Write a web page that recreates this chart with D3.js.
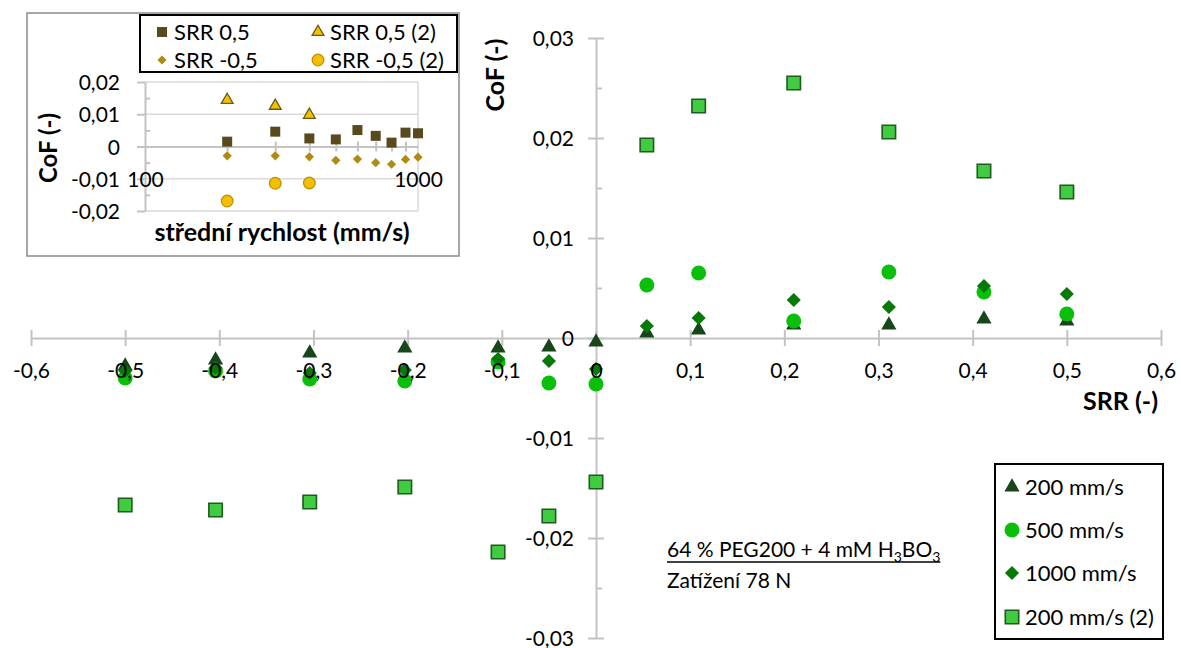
<!DOCTYPE html>
<html><head><meta charset="utf-8">
<script src="https://cdn.jsdelivr.net/npm/d3@7"></script>
<style>
html,body{margin:0;padding:0;background:#fff;}
text{font-family:Lato,'Open Sans',sans-serif;fill:#000;}
</style></head>
<body>
<svg id="chart" width="1181" height="648"></svg>
<script>
// ---------- Main chart data ----------
const srr = [-0.5, -0.404, -0.304, -0.203, -0.104, -0.05, 0, 0.054, 0.109, 0.21, 0.311, 0.412, 0.5];
const cof200  = [-0.0028, -0.0022, -0.0015, -0.0010, -0.0010, -0.0009, -0.0004, 0.0005, 0.0008, 0.0013, 0.0013, 0.0019, 0.0017];
const cof500  = [-0.0040, -0.0033, -0.0041, -0.0043, -0.0024, -0.0045, -0.0046, 0.0053, 0.0065, 0.0017, 0.0066, 0.0046, 0.0024];
const cof1000 = [-0.0033, -0.0030, -0.0035, -0.0032, -0.0021, -0.0023, -0.0031, 0.0012, 0.0020, 0.0038, 0.0031, 0.0052, 0.0044];
const cof200b = [-0.0167, -0.0172, -0.0164, -0.0149, -0.0214, -0.0178, -0.0144, 0.0193, 0.0232, 0.0255, 0.0206, 0.0167, 0.0146];
const seriesNames = ["200 mm/s", "500 mm/s", "1000 mm/s", "200 mm/s (2)"];
const xTicks = [-0.6, -0.5, -0.4, -0.3, -0.2, -0.1, 0, 0.1, 0.2, 0.3, 0.4, 0.5, 0.6];
const yTicks = [-0.03, -0.02, -0.01, 0, 0.01, 0.02, 0.03];
const yMinor = [-0.025, -0.015, -0.005, 0.005, 0.015, 0.025];

// ---------- Inset data ----------
const speeds  = [200, 300, 400, 500, 600, 700, 800, 900, 1000];
const srrPos  = [0.0015, 0.0046, 0.0025, 0.0022, 0.0051, 0.0033, 0.0012, 0.0043, 0.0041];
const srrNeg  = [-0.0029, -0.0029, -0.0032, -0.0043, -0.0039, -0.0050, -0.0055, -0.0040, -0.0033];
const speeds2 = [200, 300, 400];
const srrPos2 = [0.0144, 0.0126, 0.0098];
const srrNeg2 = [-0.0169, -0.0114, -0.0113];
const insetNames = ["SRR 0,5", "SRR 0,5 (2)", "SRR -0,5", "SRR -0,5 (2)"];
const insetYTicks = [-0.02, -0.01, 0, 0.01, 0.02];
const insetYMinor = [-0.015, -0.005, 0.005, 0.015];
const insetXMinor = [200, 300, 400, 500, 600, 700, 800, 900];
const insetXLabels = [100, 1000];

// ---------- helpers ----------
const loc = d3.formatLocale({decimal: ",", thousands: " ", grouping: [3], currency: ["", ""], minus: "-"});
const fmt1 = v => v === 0 ? "0" : loc.format(".1f")(v);
const fmt2 = v => v === 0 ? "0" : loc.format(".2f")(v);
const axisColor = "#c3c3c3";

const diamond = { draw(ctx, size) { const r = Math.sqrt(size) / 2; ctx.moveTo(0, -r); ctx.lineTo(r, 0); ctx.lineTo(0, r); ctx.lineTo(-r, 0); ctx.closePath(); } };

const svg = d3.select("#chart");

// ---------- Main scales ----------
const x = d3.scaleLinear().domain([-0.6, 0.6]).range([31, 1161]);
const y = d3.scaleLinear().domain([-0.03, 0.03]).range([638, 38]);

// axis lines
const gx = svg.append("g").attr("transform", `translate(0,${y(0)})`)
  .call(d3.axisBottom(x).tickValues(xTicks).tickSize(8).tickSizeOuter(0).tickFormat(""));
gx.select(".domain").attr("stroke", axisColor).attr("stroke-width", 2);
gx.selectAll(".tick line").attr("y1", -8).attr("y2", 8).attr("stroke", axisColor).attr("stroke-width", 2);

const gy = svg.append("g").attr("transform", `translate(${x(0)},0)`)
  .call(d3.axisLeft(y).tickValues(yTicks).tickSize(8).tickSizeOuter(0).tickFormat(""));
gy.select(".domain").attr("stroke", axisColor).attr("stroke-width", 2);
gy.selectAll(".tick line").attr("x1", 8).attr("x2", -8).attr("stroke", axisColor).attr("stroke-width", 2);

const gyMinor = svg.append("g").attr("transform", `translate(${x(0)},0)`)
  .call(d3.axisRight(y).tickValues(yMinor).tickSize(6).tickFormat(""));
gyMinor.select(".domain").remove();
gyMinor.selectAll(".tick line").attr("stroke", axisColor).attr("stroke-width", 2);

// markers
const mains = svg.append("g");
const data = srr.map((s, i) => ({s, a: cof200[i], b: cof500[i], c: cof1000[i], d: cof200b[i]}));
mains.selectAll(".tri").data(data).join("path")
  .attr("d", d3.symbol(d3.symbolTriangle, 100))
  .attr("transform", d => `translate(${x(d.s)},${y(d.a)})`)
  .attr("fill", "#17461a");
mains.selectAll(".cir").data(data).join("circle")
  .attr("cx", d => x(d.s)).attr("cy", d => y(d.b)).attr("r", 7.5)
  .attr("fill", "#0abf0a");
mains.selectAll(".dia").data(data).join("path")
  .attr("d", d3.symbol(diamond, 200))
  .attr("transform", d => `translate(${x(d.s)},${y(d.c)})`)
  .attr("fill", "#067a06");
mains.selectAll(".sq").data(data).join("path")
  .attr("d", d3.symbol(d3.symbolSquare, 180))
  .attr("transform", d => `translate(${x(d.s)},${y(d.d)})`)
  .attr("fill", "#41cb41").attr("stroke", "#1c5c1c").attr("stroke-width", 1.6);

// tick labels on top
const lx = svg.append("g").attr("transform", `translate(0,${y(0)})`)
  .call(d3.axisBottom(x).tickValues(xTicks).tickSize(0).tickFormat(fmt1));
lx.select(".domain").remove();
lx.selectAll(".tick text").attr("y", 40).attr("dy", null).style("font-size", "21px").style("font-family", "Lato");

const ly = svg.append("g").attr("transform", `translate(${x(0)},0)`)
  .call(d3.axisLeft(y).tickValues(yTicks).tickSize(0).tickPadding(22).tickFormat(fmt2));
ly.select(".domain").remove();
ly.selectAll(".tick text").attr("dy", "0.34em").style("font-size", "21px").style("font-family", "Lato");

// axis titles
svg.append("text").attr("transform", "translate(504,75) rotate(-90)")
  .attr("text-anchor", "middle").style("font-size", "25px").style("font-weight", "bold").text("CoF (-)");
svg.append("text").attr("x", 1158).attr("y", 410).attr("text-anchor", "end")
  .style("font-size", "25px").style("font-weight", "bold").text("SRR (-)");

// annotation
const ann = svg.append("text").attr("x", 667).attr("y", 557).style("font-size", "21px");
ann.append("tspan").text("64 % PEG200 + 4 mM H");
ann.append("tspan").attr("dy", 5).style("font-size", "14px").text("3");
ann.append("tspan").attr("dy", -5).text("BO");
ann.append("tspan").attr("dy", 5).style("font-size", "14px").text("3");
const annW = ann.node().getComputedTextLength();
svg.append("line").attr("x1", 667).attr("x2", 667 + annW).attr("y1", 562).attr("y2", 562)
  .attr("stroke", "#000").attr("stroke-width", 1.3);
svg.append("text").attr("x", 667).attr("y", 588).style("font-size", "21px").text("Zatížení 78 N");

// main legend
svg.append("rect").attr("x", 995).attr("y", 464).attr("width", 168).attr("height", 175)
  .attr("fill", "#fff").attr("stroke", "#000").attr("stroke-width", 2);
const legRows = [487, 530, 573, 617];
const lg = svg.append("g");
lg.append("path").attr("d", d3.symbol(d3.symbolTriangle, 100)).attr("transform", `translate(1012,${legRows[0]})`).attr("fill", "#17461a");
lg.append("circle").attr("cx", 1012).attr("cy", legRows[1]).attr("r", 7.5).attr("fill", "#0abf0a");
lg.append("path").attr("d", d3.symbol(diamond, 200)).attr("transform", `translate(1012,${legRows[2]})`).attr("fill", "#067a06");
lg.append("path").attr("d", d3.symbol(d3.symbolSquare, 180)).attr("transform", `translate(1012,${legRows[3]})`)
  .attr("fill", "#41cb41").attr("stroke", "#1c5c1c").attr("stroke-width", 1.6);
lg.selectAll("text").data(seriesNames).join("text")
  .attr("x", 1025).attr("y", (d, i) => legRows[i]).attr("dy", "0.36em").style("font-size", "22px").text(d => d);

// ---------- Inset ----------
const ins = svg.append("g");
ins.append("rect").attr("x", 27).attr("y", 13).attr("width", 432).attr("height", 243)
  .attr("fill", "#fff").attr("stroke", "#8a8a8a").attr("stroke-width", 1.5);

const xi = d3.scaleLog().domain([100, 1000]).range([145, 418]);
const yi = d3.scaleLinear().domain([-0.02, 0.02]).range([211, 82]);

// gridlines
ins.append("g").selectAll("line").data(insetYTicks.filter(v => v !== 0)).join("line")
  .attr("x1", 145).attr("x2", 418).attr("y1", d => yi(d)).attr("y2", d => yi(d))
  .attr("stroke", "#dadada").attr("stroke-width", 1.5);
ins.append("line").attr("x1", 418).attr("x2", 418).attr("y1", yi(0.02)).attr("y2", yi(-0.02))
  .attr("stroke", "#dadada").attr("stroke-width", 1.5);

// inset y axis
const giy = ins.append("g").attr("transform", `translate(145,0)`)
  .call(d3.axisLeft(yi).tickValues(insetYTicks).tickSize(8).tickSizeOuter(0).tickPadding(17).tickFormat(fmt2));
giy.select(".domain").attr("stroke", axisColor).attr("stroke-width", 2);
giy.selectAll(".tick line").attr("stroke", axisColor).attr("stroke-width", 2);
giy.selectAll(".tick text").attr("dy", "0.36em").style("font-size", "21px").style("font-family", "Lato");
const giym = ins.append("g").attr("transform", `translate(145,0)`)
  .call(d3.axisRight(yi).tickValues(insetYMinor).tickSize(5).tickFormat(""));
giym.select(".domain").remove();
giym.selectAll(".tick line").attr("stroke", axisColor).attr("stroke-width", 2);

// inset x axis
const gix = ins.append("g").attr("transform", `translate(0,${yi(0)})`)
  .call(d3.axisBottom(xi).tickValues(insetXMinor).tickSize(5).tickSizeOuter(0).tickFormat(""));
gix.select(".domain").attr("stroke", axisColor).attr("stroke-width", 2);
gix.selectAll(".tick line").attr("y1", -5).attr("y2", 5).attr("stroke", axisColor).attr("stroke-width", 2);

// inset markers
const idata = speeds.map((s, i) => ({s, p: srrPos[i], n: srrNeg[i]}));
const idata2 = speeds2.map((s, i) => ({s, p: srrPos2[i], n: srrNeg2[i]}));
ins.selectAll(".isq").data(idata).join("path")
  .attr("d", d3.symbol(d3.symbolSquare, 100))
  .attr("transform", d => `translate(${xi(d.s)},${yi(d.p)})`).attr("fill", "#584a1e");
ins.selectAll(".itri").data(idata2).join("path")
  .attr("d", d3.symbol(d3.symbolTriangle, 60))
  .attr("transform", d => `translate(${xi(d.s)},${yi(d.p)})`)
  .attr("fill", "#f2c200").attr("stroke", "#6b5812").attr("stroke-width", 1.3);
ins.selectAll(".idia").data(idata).join("path")
  .attr("d", d3.symbol(diamond, 85))
  .attr("transform", d => `translate(${xi(d.s)},${yi(d.n)})`).attr("fill", "#b08a12");
ins.selectAll(".icir").data(idata2).join("circle")
  .attr("cx", d => xi(d.s)).attr("cy", d => yi(d.n)).attr("r", 5.8)
  .attr("fill", "#f2c000").attr("stroke", "#c08f00").attr("stroke-width", 1.3);

// inset x labels
const gixl = ins.append("g").attr("transform", `translate(0,${yi(0)})`)
  .call(d3.axisBottom(xi).tickValues(insetXLabels).tickSize(0).tickFormat(d3.format("d")));
gixl.select(".domain").remove();
gixl.selectAll(".tick text").attr("y", 33).attr("dy", "0.36em").style("font-size", "21px").style("font-family", "Lato");

// inset titles
ins.append("text").attr("transform", "translate(57,148) rotate(-90)").attr("text-anchor", "middle")
  .style("font-size", "24px").style("font-weight", "bold").text("CoF (-)");
ins.append("text").attr("x", 282).attr("y", 241).attr("text-anchor", "middle")
  .style("font-size", "25px").style("font-weight", "bold").text("střední rychlost (mm/s)");

// inset legend
ins.append("rect").attr("x", 140).attr("y", 15).attr("width", 317).attr("height", 57)
  .attr("fill", "#fff").attr("stroke", "#000").attr("stroke-width", 2);
const ilx = [162, 162 + 156, 162, 162 + 156];
const ily = [32, 32, 60, 60];
ins.append("path").attr("d", d3.symbol(d3.symbolSquare, 100)).attr("transform", `translate(${ilx[0]},${ily[0]})`).attr("fill", "#584a1e");
ins.append("path").attr("d", d3.symbol(d3.symbolTriangle, 60)).attr("transform", `translate(${ilx[1]},${ily[1]})`)
  .attr("fill", "#f2c200").attr("stroke", "#6b5812").attr("stroke-width", 1.3);
ins.append("path").attr("d", d3.symbol(diamond, 85)).attr("transform", `translate(${ilx[2]},${ily[2]})`).attr("fill", "#b08a12");
ins.append("circle").attr("cx", ilx[3]).attr("cy", ily[3]).attr("r", 5.8)
  .attr("fill", "#f2c000").attr("stroke", "#c08f00").attr("stroke-width", 1.3);
ins.selectAll(".ilt").data(insetNames).join("text")
  .attr("x", (d, i) => ilx[i] + 12).attr("y", (d, i) => ily[i]).attr("dy", "0.36em")
  .style("font-size", "22px").text(d => d);
</script>
</body></html>
